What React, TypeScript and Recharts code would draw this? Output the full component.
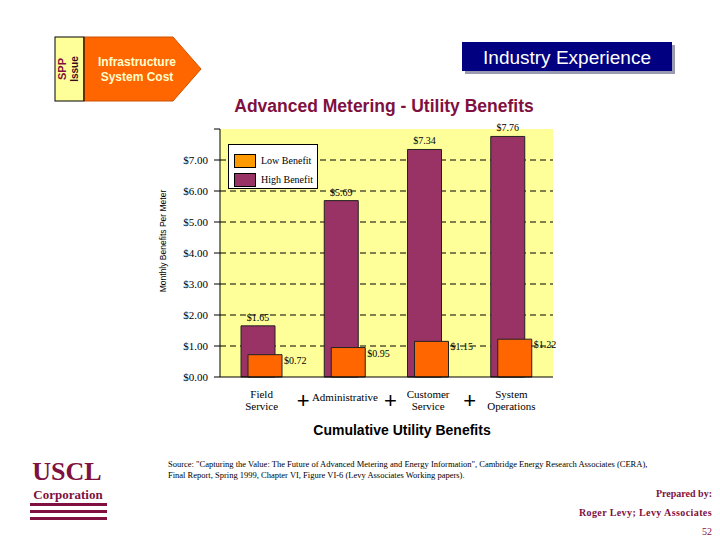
import React from 'react'
import { BarChart, Bar, XAxis, YAxis, CartesianGrid, Legend } from 'recharts'

const SERIF = "'Times New Roman', 'Liberation Serif', serif"
const SANS = "Arial, 'Liberation Sans', sans-serif"
const MAROON = '#80103f'

const categories = ['Field\nService', 'Administrative', 'Customer\nService', 'System\nOperations']
const lowBenefit = [0.72, 0.95, 1.15, 1.22]
const highBenefit = [1.65, 5.69, 7.34, 7.76]
const yTicks = [0, 1, 2, 3, 4, 5, 6, 7, 8]
const gridValues = [1, 2, 3, 4, 5, 6, 7]

const legendItems = [
  { name: 'Low Benefit', color: '#ff9900' },
  { name: 'High Benefit', color: '#993366' },
]

const data = categories.map((category, i) => ({
  category,
  low: lowBenefit[i],
  high: highBenefit[i],
}))

const money = (v: number) => `$${v.toFixed(2)}`

const CHART_W = 720
const CHART_H = 540
const margin = { top: 129, right: 167, bottom: 123, left: 160 }
const halfBand = (CHART_W - margin.left - 60 - margin.right) / categories.length / 2

const CategoryTick = (props: any) => {
  const { x, y, payload, index } = props
  const lines: string[] = String(payload.value).split('\n')
  const startY = lines.length > 1 ? y + 13 : y + 16
  return (
    <g>
      <text x={x} y={startY} textAnchor="middle" fontFamily={SERIF} fontSize={11} fill="#000">
        {lines.map((line, i) => (
          <tspan key={i} x={x} dy={i === 0 ? 0 : 12}>
            {line}
          </tspan>
        ))}
      </text>
      {index < categories.length - 1 && (
        <text x={x + halfBand + (index === 1 ? 4 : 0)} y={y + 23} textAnchor="middle" fontFamily={SANS} fontSize={22} fill="#000">
          +
        </text>
      )}
    </g>
  )
}

const renderHighLabel = (props: any) => {
  const { x, y, width, value } = props
  return (
    <text x={x + width / 2} y={y - 5} textAnchor="middle" fontFamily={SERIF} fontSize={10} fill="#000">
      {money(value)}
    </text>
  )
}

const renderLowLabel = (props: any) => {
  const { x, y, width, value } = props
  return (
    <text x={x + width + 2} y={y + 9} fontFamily={SERIF} fontSize={10} fill="#000">
      {money(value)}
    </text>
  )
}

const LegendBox = () => (
  <div
    style={{
      width: 90,
      height: 45,
      boxSizing: 'border-box',
      background: '#fff',
      border: '1px solid #000',
      padding: '6px 0 0 5px',
    }}
  >
    {legendItems.map((item) => (
      <div key={item.name} style={{ display: 'flex', alignItems: 'center', height: 19 }}>
        <span
          style={{
            display: 'inline-block',
            width: 22,
            height: 14,
            boxSizing: 'border-box',
            background: item.color,
            border: '1px solid #000',
            marginRight: 5,
          }}
        />
        <span style={{ fontFamily: SERIF, fontSize: 10, color: '#000' }}>{item.name}</span>
      </div>
    ))}
  </div>
)

const YLabel = (props: any) => {
  const { viewBox } = props
  const cx = viewBox.x + 3
  const cy = 241
  return (
    <text
      x={cx}
      y={cy}
      transform={`rotate(-90 ${cx} ${cy})`}
      textAnchor="middle"
      dominantBaseline="central"
      fontFamily={SANS}
      fontSize={8.5}
      fill="#000"
    >
      Monthly Benefits Per Meter
    </text>
  )
}

function Decorations() {
  return (
    <svg width={720} height={540} style={{ position: 'absolute', left: 0, top: 0 }}>
      {/* header tags */}
      <rect x={55} y={37} width={29} height={64} fill="#ffff99" stroke="#000" strokeWidth={1} />
      <g transform="rotate(-90 69 69)">
        <text x={69} y={66} textAnchor="middle" fontFamily={SANS} fontWeight="bold" fontSize={11} fill={MAROON}>
          SPP
        </text>
        <text x={69} y={78} textAnchor="middle" fontFamily={SANS} fontWeight="bold" fontSize={10} fill="#3a0a1a">
          Issue
        </text>
      </g>
      <polygon points="84,37 173,37 201,69 173,101 84,101" fill="#ff6600" stroke="#cc5000" strokeWidth={1} />
      <line x1={84} y1={37} x2={84} y2={101} stroke="#000" />
      <text x={137} y={66} textAnchor="middle" fontFamily={SANS} fontWeight="bold" fontSize={12} fill="#ffffcc">
        Infrastructure
      </text>
      <text x={137} y={81} textAnchor="middle" fontFamily={SANS} fontWeight="bold" fontSize={12} fill="#ffffcc">
        System Cost
      </text>

      <rect x={465} y={45} width={210} height={29} fill="#9a9ab0" />
      <rect x={462} y={42} width={210} height={29} fill="#000080" />
      <text x={567} y={64} textAnchor="middle" fontFamily={SANS} fontSize={19} fill="#fff">
        Industry Experience
      </text>

      <text x={384} y={112} textAnchor="middle" fontFamily={SANS} fontWeight="bold" fontSize={17.5} fill={MAROON}>
        Advanced Metering - Utility Benefits
      </text>

      <text x={402} y={435} textAnchor="middle" fontFamily={SANS} fontWeight="bold" fontSize={14} fill="#000">
        Cumulative Utility Benefits
      </text>

      {/* footer */}
      <text x={67} y={480} textAnchor="middle" fontFamily={SERIF} fontWeight="bold" fontSize={26} fill={MAROON}>
        USCL
      </text>
      <text x={68} y={499} textAnchor="middle" fontFamily={SERIF} fontWeight="bold" fontSize={13} fill={MAROON}>
        Corporation
      </text>
      <rect x={30} y={503} width={77} height={3} fill={MAROON} />
      <rect x={30} y={510} width={77} height={3} fill={MAROON} />
      <rect x={30} y={517} width={77} height={3} fill={MAROON} />

      <text x={168} y={467} fontFamily={SERIF} fontSize={8.5} fill="#000">
        Source: "Capturing the Value: The Future of Advanced Metering and Energy Information", Cambridge Energy Research
        Associates (CERA),
      </text>
      <text x={168} y={478} fontFamily={SERIF} fontSize={8.5} fill="#000">
        Final Report, Spring 1999, Chapter VI, Figure VI-6 (Levy Associates Working papers).
      </text>

      <text x={712} y={497} textAnchor="end" fontFamily={SERIF} fontWeight="bold" fontSize={10} fill={MAROON}>
        Prepared by:
      </text>
      <text x={712} y={516} textAnchor="end" fontFamily={SERIF} fontWeight="bold" fontSize={10} fill={MAROON} letterSpacing={0.4}>
        Roger Levy; Levy Associates
      </text>
      <text x={712} y={535} textAnchor="end" fontFamily={SERIF} fontSize={10} fill={MAROON}>
        52
      </text>
    </svg>
  )
}

export default function App() {
  return (
    <div style={{ position: 'absolute', left: 0, top: 0, width: CHART_W, height: CHART_H, background: '#fff' }}>
      <Decorations />
      <div style={{ position: 'absolute', left: 0, top: 0 }}>
        <BarChart width={CHART_W} height={CHART_H} data={data} margin={margin} barGap={-27}>
          <CartesianGrid
            vertical={false}
            horizontalValues={gridValues}
            stroke="#000"
            strokeDasharray="6 4"
            fill="#ffff99"
            fillOpacity={1}
          />
          <XAxis
            dataKey="category"
            height={40}
            interval={0}
            tickLine={false}
            axisLine={{ stroke: '#000' }}
            tick={<CategoryTick />}
          />
          <XAxis xAxisId="top" orientation="top" dataKey="category" height={0} tick={false} tickLine={false} axisLine={{ stroke: '#999' }} />
          <YAxis
            width={60}
            domain={[0, 8]}
            ticks={yTicks}
            interval={0}
            tickSize={6}
            tickMargin={6}
            tickLine={{ stroke: '#000' }}
            axisLine={{ stroke: '#000' }}
            tickFormatter={(v: number) => (v === 8 ? '' : money(v))}
            tick={{ fontFamily: SERIF, fontSize: 11, fill: '#000' }}
            label={<YLabel />}
          />
          <YAxis yAxisId="right" orientation="right" domain={[0, 8]} width={0} tick={false} tickLine={false} axisLine={{ stroke: '#999' }} />
          <Legend
            layout="vertical"
            align="center"
            verticalAlign="middle"
            content={<LegendBox />}
            wrapperStyle={{ position: 'absolute', left: 228, top: 144, width: 90, height: 45 }}
          />
          <Bar
            dataKey="high"
            name="High Benefit"
            fill="#993366"
            stroke="#222"
            strokeWidth={1}
            barSize={34}
            isAnimationActive={false}
            label={renderHighLabel}
          />
          <Bar
            dataKey="low"
            name="Low Benefit"
            fill="#ff6600"
            stroke="#222"
            strokeWidth={1}
            barSize={34}
            isAnimationActive={false}
            label={renderLowLabel}
          />
        </BarChart>
      </div>
    </div>
  )
}
